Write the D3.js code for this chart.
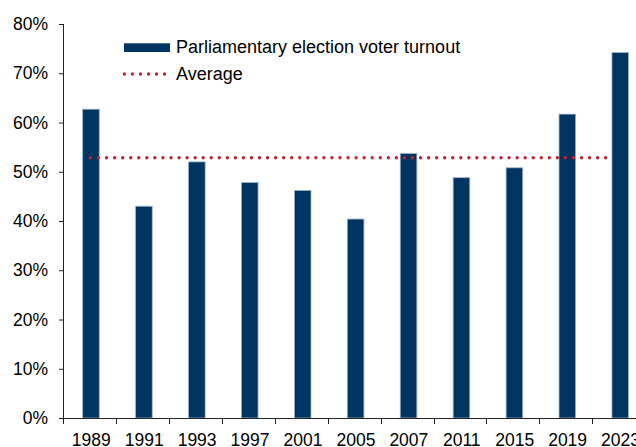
<!DOCTYPE html>
<html>
<head>
<meta charset="utf-8">
<script src="https://cdn.jsdelivr.net/npm/d3@7"></script>
<style>
  html, body { margin: 0; padding: 0; background: #fff; }
  svg { display: block; font-family: "Liberation Sans", Arial, sans-serif; }
</style>
</head>
<body>
<svg id="chart" width="636" height="447"></svg>
<script>
// Election years shown on the category axis
const years = ["1989", "1991", "1993", "1997", "2001", "2005", "2007", "2011", "2015", "2019", "2023"];
// Parliamentary election voter turnout, percent
const turnout = [62.7, 43.0, 52.0, 47.8, 46.2, 40.4, 53.7, 48.8, 50.8, 61.7, 74.2];
// Percent tick values on the value axis
const yTicks = [0, 10, 20, 30, 40, 50, 60, 70, 80];
// Legend entries
const legendLabels = ["Parliamentary election voter turnout", "Average"];

const average = d3.mean(turnout);

const BAR_COLOR = "#003561";
const AVG_COLOR = "#c8202f";

const svg = d3.select("#chart");
const plotLeft = 64, plotTop = 24, plotBottom = 418;
const step = 52.93;

// One extra band beyond the last year so the plot runs off the right edge
const bandDomain = years.concat(["_"]);
const x = d3.scaleBand()
  .domain(bandDomain)
  .range([plotLeft, plotLeft + step * bandDomain.length])
  .padding(0);

const y = d3.scaleLinear().domain([0, 80]).range([plotBottom, plotTop]);

const barW = x.bandwidth() * 0.314;
const cx = d => x(d) + x.bandwidth() / 2;

// Bars
svg.append("g")
  .selectAll("rect")
  .data(years.map((yr, i) => ({ yr, v: turnout[i] })))
  .join("rect")
  .attr("x", d => cx(d.yr) - barW / 2 + 0.5)
  .attr("y", d => y(d.v))
  .attr("width", barW)
  .attr("height", d => y(0) - y(d.v))
  .attr("fill", BAR_COLOR)
  .attr("stroke", "#9fb3c8")
  .attr("stroke-width", 0.8);

// Average line (dotted)
svg.append("line")
  .attr("x1", cx(years[0]))
  .attr("x2", cx(years[years.length - 1]) - barW / 2 + 1.5)
  .attr("y1", y(average))
  .attr("y2", y(average))
  .attr("stroke", AVG_COLOR)
  .attr("stroke-width", 3.4)
  .attr("stroke-linecap", "round")
  .attr("stroke-dasharray", "0 8.05");

// Value axis
const yAxis = svg.append("g")
  .attr("transform", `translate(${plotLeft},0)`)
  .call(d3.axisLeft(y).tickValues(yTicks).tickSize(5).tickPadding(11)
    .tickFormat(d => d + "%"));
yAxis.select(".domain").attr("stroke", "#222").attr("d", `M-0.5,${plotTop}V${plotBottom}`);
yAxis.selectAll(".tick line").attr("stroke", "#222");
yAxis.selectAll("text")
  .attr("font-size", "17.5px")
  .attr("font-family", "Liberation Sans, Arial, sans-serif")
  .attr("fill", "#000");

// Category axis: ticks on band boundaries, labels centered in bands
const xAxisG = svg.append("g");
xAxisG.append("line")
  .attr("x1", plotLeft - 0.5).attr("x2", 636)
  .attr("y1", plotBottom + 0.5).attr("y2", plotBottom + 0.5)
  .attr("stroke", "#222");
xAxisG.selectAll("line.tk")
  .data(bandDomain)
  .join("line")
  .attr("class", "tk")
  .attr("x1", d => Math.round(x(d)) - 0.5)
  .attr("x2", d => Math.round(x(d)) - 0.5)
  .attr("y1", plotBottom)
  .attr("y2", plotBottom + 6)
  .attr("stroke", "#222");
xAxisG.selectAll("text")
  .data(years)
  .join("text")
  .attr("x", d => cx(d) + 0.8)
  .attr("y", 445.5)
  .attr("text-anchor", "middle")
  .attr("font-size", "17.5px")
  .attr("fill", "#000")
  .text(d => d);

// Legend
const lg = svg.append("g");
lg.append("rect")
  .attr("x", 124).attr("y", 43.3)
  .attr("width", 46).attr("height", 8.7)
  .attr("fill", BAR_COLOR);
lg.append("text")
  .attr("x", 176).attr("y", 52.5)
  .attr("font-size", "18px")
  .attr("fill", "#000")
  .text(legendLabels[0]);
lg.append("line")
  .attr("x1", 124.3).attr("x2", 165)
  .attr("y1", 74).attr("y2", 74)
  .attr("stroke", AVG_COLOR)
  .attr("stroke-width", 3.4)
  .attr("stroke-linecap", "round")
  .attr("stroke-dasharray", "0 8.05");
lg.append("text")
  .attr("x", 176).attr("y", 80)
  .attr("font-size", "18px")
  .attr("fill", "#000")
  .text(legendLabels[1]);
</script>
</body>
</html>
